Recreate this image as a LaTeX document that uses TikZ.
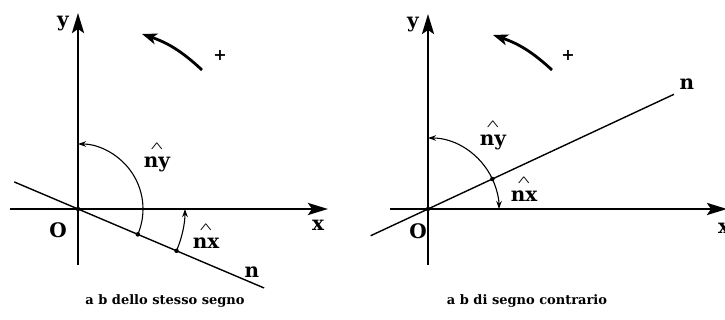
\RequirePackage{fix-cm}
\documentclass[tikz,border=0pt]{standalone}
\usepackage{fontspec}
\setmainfont{DejaVu Serif}
\usetikzlibrary{arrows.meta,calc}
\newcommand{\hatmark}{\scalebox{0.85}[0.55]{\boldmath$\wedge$}}
\begin{document}
\begin{tikzpicture}[x=1pt,y=1pt,
    axis/.style={line width=2.8pt,-{Stealth[length=20pt,width=12pt,inset=4pt]}},
    nline/.style={line width=1.4pt},
    angarc/.style={line width=1.1pt,-{Stealth[length=8pt,width=5.5pt]}},
    spin/.style={line width=2.8pt,-{Stealth[length=15pt,width=11pt,inset=4pt]}},
    dot node/.style={circle,fill=black,inner sep=0pt,minimum size=4.5pt},
    lbl/.style={font=\fontsize{20}{22}\selectfont\bfseries},
    anglbl/.style={lbl,align=center,inner sep=0pt},
    plusmark/.style={font=\fontsize{16}{18}\selectfont\bfseries},
    capt/.style={font=\fontsize{13}{16}\selectfont\bfseries} ]
    \useasboundingbox (0,0) rectangle (725,320);
    % left: a b dello stesso segno
    \node at (78,111) [dot node] (O1) {};
    \coordinate (y1b) at (78,55);
    \coordinate (y1t) at (78,307);
    \coordinate (x1l) at (10,111);
    \coordinate (x1r) at (328,111);
    \draw [axis] (y1b) to (y1t);
    \draw [axis] (x1l) to (x1r);
    \node at ($(O1)+(157:70)$) [inner sep=0pt] (n1l) {};
    \node at ($(O1)+(-23:203)$) [inner sep=0pt] (n1r) {};
    \draw [nline] (n1l) to (n1r);
    \node at ($(O1)+(-23:65)$) [dot node] (A1) {};
    \node at ($(O1)+(-23:107)$) [dot node] (B1) {};
    \draw [angarc] (A1.center) arc[start angle=-23, end angle=90, radius=65];
    \draw [angarc] (B1.center) arc[start angle=-23, end angle=0, radius=107];
    \node at (63,296) [lbl] (ylab1) {y};
    \node at (318,95) [lbl] (xlab1) {x};
    \node at (58,90) [lbl] (olab1) {O};
    \node at (252,48) [lbl] (nlab1) {n};
    \node at (157,162) [anglbl] (ny1) {\hatmark\\[-4pt]ny};
    \node at (206,84) [anglbl] (nx1) {\hatmark\\[-4pt]nx};
    \coordinate (s1a) at (202,250);
    \coordinate (s1b) at (142,286);
    \draw [spin] (s1a) to [bend right=12] (s1b);
    \node at (220,265) [plusmark] (plus1) {+};
    \node at (165,19) [capt] (cap1) {a b dello stesso segno};
    % right: a b di segno contrario
    \node at (428,111) [dot node] (O2) {};
    \coordinate (y2b) at (428,55);
    \coordinate (y2t) at (428,306);
    \coordinate (x2l) at (390,111);
    \coordinate (x2r) at (727,111);
    \draw [axis] (y2b) to (y2t);
    \draw [axis] (x2l) to (x2r);
    \node at ($(O2)+(205:64)$) [inner sep=0pt] (n2l) {};
    \node at ($(O2)+(25:272)$) [inner sep=0pt] (n2r) {};
    \draw [nline] (n2l) to (n2r);
    \node at ($(O2)+(25:71)$) [dot node] (A2) {};
    \draw [angarc] (A2.center) arc[start angle=25, end angle=90, radius=71];
    \draw [angarc] (A2.center) arc[start angle=25, end angle=0, radius=71];
    \node at (413,295) [lbl] (ylab2) {y};
    \node at (724,92) [lbl] (xlab2) {x};
    \node at (418,89) [lbl] (olab2) {O};
    \node at (687,236) [lbl] (nlab2) {n};
    \node at (493,184) [anglbl] (ny2) {\hatmark\\[-4pt]ny};
    \node at (524,131) [anglbl] (nx2) {\hatmark\\[-4pt]nx};
    \coordinate (s2a) at (552,250);
    \coordinate (s2b) at (493,285);
    \draw [spin] (s2a) to [bend right=12] (s2b);
    \node at (568,265) [plusmark] (plus2) {+};
    \node at (527,19) [capt] (cap2) {a b di segno contrario};
\end{tikzpicture}
\end{document}
